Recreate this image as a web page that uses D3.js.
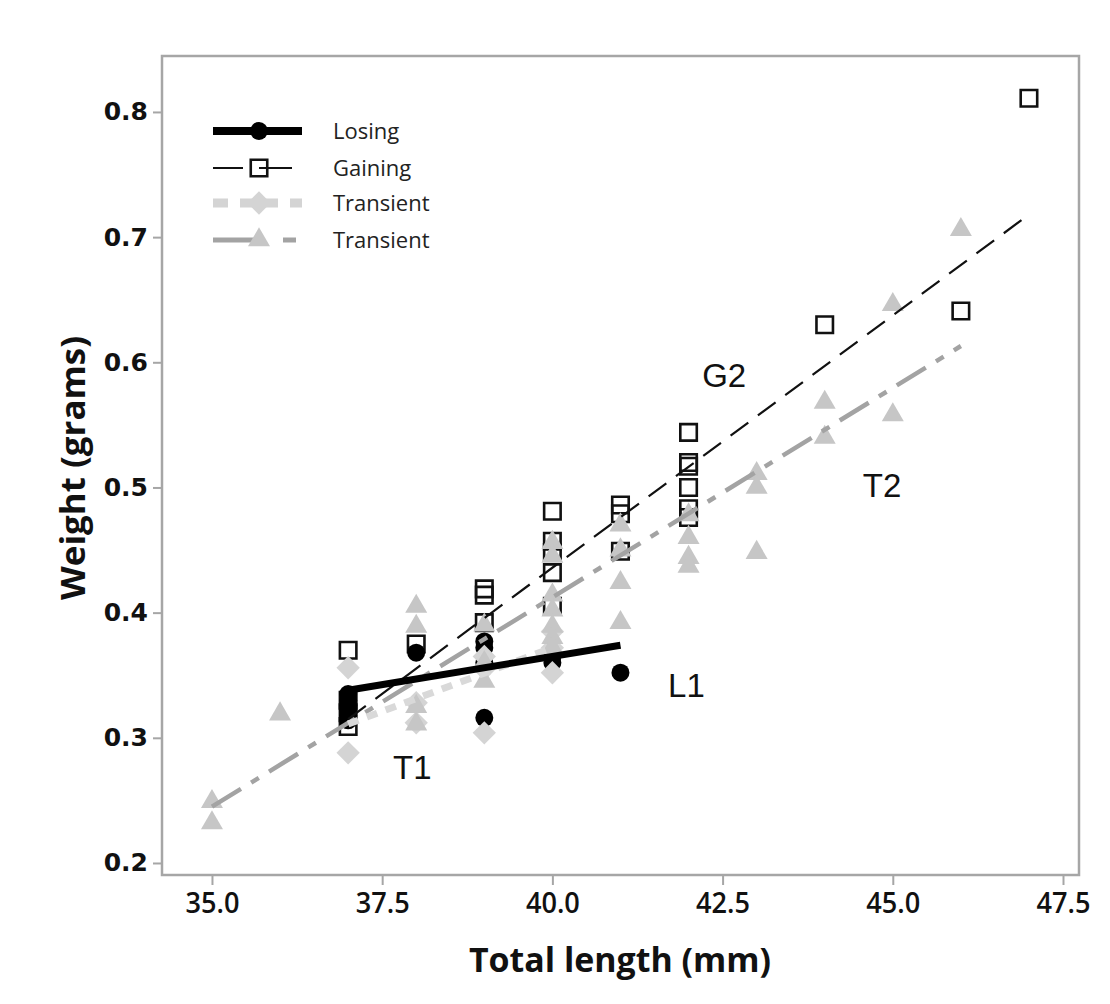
<!DOCTYPE html>
<html>
<head>
<meta charset="utf-8">
<script src="https://cdn.jsdelivr.net/npm/d3@7"></script>
<style>
  body { margin: 0; background: #fff; }
  svg { display: block; }
</style>
</head>
<body>
<div id="chart"></div>
<script>
// data
var losingX = [37, 37, 37, 37, 37, 37, 38, 39, 39, 39, 39, 40, 40, 41];
var losingY = [0.335, 0.330, 0.326, 0.322, 0.318, 0.314, 0.368, 0.377, 0.372, 0.360, 0.316, 0.365, 0.360, 0.352];

var gainingX = [37, 37, 37, 37, 38, 39, 39, 39, 40, 40, 40, 40, 40, 41, 41, 41, 42, 42, 42, 42, 42, 42, 44, 46, 47];
var gainingY = [0.370, 0.330, 0.320, 0.309, 0.375, 0.419, 0.414, 0.392, 0.481, 0.457, 0.448, 0.432, 0.405,
                0.486, 0.479, 0.449, 0.544, 0.520, 0.517, 0.500, 0.483, 0.476, 0.630, 0.641, 0.811];

var trans1X = [37, 37, 38, 38, 39, 39, 39, 40, 40, 40];
var trans1Y = [0.356, 0.288, 0.328, 0.312, 0.365, 0.355, 0.304, 0.352, 0.372, 0.385];

var trans2X = [35, 35, 36, 38, 38, 38, 38, 39, 39, 39, 40, 40, 40, 40, 40, 40, 40,
               41, 41, 41, 41, 42, 42, 42, 42, 43, 43, 43, 44, 44, 45, 45, 46];
var trans2Y = [0.249, 0.232, 0.319, 0.405, 0.389, 0.325, 0.311, 0.390, 0.360, 0.345,
               0.456, 0.445, 0.414, 0.402, 0.389, 0.380, 0.372,
               0.470, 0.450, 0.424, 0.392, 0.478, 0.460, 0.444, 0.437,
               0.511, 0.500, 0.448, 0.568, 0.540, 0.646, 0.558, 0.706];

// fitted lines (end points)
var fitLosingX = [37, 41],  fitLosingY = [0.338, 0.374];
var fitGainingX = [37, 47], fitGainingY = [0.315, 0.718];
var fitT1X = [37, 40],      fitT1Y = [0.311, 0.372];
var fitT2X = [35, 46],      fitT2Y = [0.245, 0.613];

var xTicks = [35, 37.5, 40, 42.5, 45, 47.5];
var yTicks = [0.2, 0.3, 0.4, 0.5, 0.6, 0.7, 0.8];

var legendLabels = ["Losing", "Gaining", "Transient", "Transient"];
var lineLabels = ["G2", "T2", "L1", "T1"];
var lineLabelX = [42.2, 44.56, 41.7, 37.66];
var lineLabelY = [0.580, 0.4924, 0.3326, 0.2671];

function zip(xs, ys) {
	return xs.map(function(x, i) { return {x: x, y: ys[i]}; });
}

var W = 1110, H = 1004;
var margin = {top: 56, right: 31, bottom: 129, left: 162};
var width = W - margin.left - margin.right;
var height = H - margin.top - margin.bottom;

var svg = d3.select("#chart").append("svg")
	.attr("width", W)
	.attr("height", H);

var canvas = svg.append("g")
	.attr("transform", "translate(" + margin.left + "," + margin.top + ")");

var xScale = d3.scaleLinear().domain([34.266, 47.735]).range([0, width]);
var yScale = d3.scaleLinear().domain([0.1904, 0.8447]).range([height, 0]);

var frameColor = "#a6a6a6";

// axes
var xAxis = d3.axisBottom(xScale).tickValues(xTicks).tickFormat(d3.format(".1f")).tickSize(10).tickSizeOuter(0);
var yAxis = d3.axisLeft(yScale).tickValues(yTicks).tickFormat(d3.format(".1f")).tickSize(9).tickSizeOuter(0);

var xAxisGroup = canvas.append("g")
	.attr("transform", "translate(0," + height + ")")
	.call(xAxis);
xAxisGroup.select(".domain").remove();
xAxisGroup.selectAll("line").attr("stroke", frameColor).attr("stroke-width", 2);
xAxisGroup.selectAll("text")
	.attr("fill", "#111")
	.attr("dy", "0.71em")
	.attr("y", 17)
	.attr("textLength", 54)
	.attr("lengthAdjust", "spacingAndGlyphs")
	.style("font-family", "'Open Sans'")
	.style("font-weight", 600)
	.style("font-size", "29px");

var yAxisGroup = canvas.append("g").call(yAxis);
yAxisGroup.select(".domain").remove();
yAxisGroup.selectAll("line").attr("stroke", frameColor).attr("stroke-width", 2);
yAxisGroup.selectAll("text")
	.attr("fill", "#111")
	.attr("x", -14)
	.style("font-family", "'DejaVu Sans'")
	.style("font-weight", "bold")
	.style("font-size", "25px");

// frame
canvas.append("rect")
	.attr("x", 0).attr("y", 0)
	.attr("width", width).attr("height", height)
	.attr("fill", "none")
	.attr("stroke", frameColor)
	.attr("stroke-width", 2.5);

// axis titles
svg.append("text")
	.attr("x", 620)
	.attr("y", 972)
	.attr("text-anchor", "middle")
	.attr("textLength", 302)
	.attr("lengthAdjust", "spacingAndGlyphs")
	.style("font-family", "'Open Sans'")
	.style("font-weight", 700)
	.style("font-size", "34px")
	.attr("fill", "#111")
	.text("Total length (mm)");

svg.append("text")
	.attr("transform", "translate(85,468) rotate(-90)")
	.attr("text-anchor", "middle")
	.attr("textLength", 264)
	.attr("lengthAdjust", "spacingAndGlyphs")
	.style("font-family", "'Open Sans'")
	.style("font-weight", 700)
	.style("font-size", "34px")
	.attr("fill", "#111")
	.text("Weight (grams)");

// markers
var sqSym = d3.symbol().type(d3.symbolSquare).size(272);
var circSym = d3.symbol().type(d3.symbolCircle).size(254);
var diaSym = d3.symbol().type(d3.symbolSquare).size(272);
var triSym = d3.symbol().type(d3.symbolTriangle).size(210);

var lightGray = "#d4d4d4";
var midGray = "#c6c6c6";

canvas.append("g").selectAll("path")
	.data(zip(gainingX, gainingY))
	.enter().append("path")
	.attr("d", sqSym)
	.attr("transform", function(d) { return "translate(" + xScale(d.x) + "," + yScale(d.y) + ")"; })
	.attr("fill", "none")
	.attr("stroke", "#111")
	.attr("stroke-width", 2.6);

canvas.append("g").selectAll("path")
	.data(zip(losingX, losingY))
	.enter().append("path")
	.attr("d", circSym)
	.attr("transform", function(d) { return "translate(" + xScale(d.x) + "," + yScale(d.y) + ")"; })
	.attr("fill", "#000");

canvas.append("g").selectAll("path")
	.data(zip(trans1X, trans1Y))
	.enter().append("path")
	.attr("d", diaSym)
	.attr("transform", function(d) { return "translate(" + xScale(d.x) + "," + yScale(d.y) + ") rotate(45)"; })
	.attr("fill", lightGray);

canvas.append("g").selectAll("path")
	.data(zip(trans2X, trans2Y))
	.enter().append("path")
	.attr("d", triSym)
	.attr("transform", function(d) { return "translate(" + xScale(d.x) + "," + yScale(d.y) + ")"; })
	.attr("fill", midGray);

// fitted lines
var toline = d3.line()
	.x(function(d) { return xScale(d.x); })
	.y(function(d) { return yScale(d.y); });

canvas.append("path")
	.datum(zip(fitT2X, fitT2Y))
	.attr("d", toline)
	.attr("fill", "none")
	.attr("stroke", "#a3a3a3")
	.attr("stroke-width", 4.5)
	.attr("stroke-dasharray", "34,12,9,12");

canvas.append("path")
	.datum(zip(fitT1X, fitT1Y))
	.attr("d", toline)
	.attr("fill", "none")
	.attr("stroke", "#d9d9d9")
	.attr("stroke-width", 7)
	.attr("stroke-dasharray", "11,9");

canvas.append("path")
	.datum(zip(fitGainingX, fitGainingY))
	.attr("d", toline)
	.attr("fill", "none")
	.attr("stroke", "#111")
	.attr("stroke-width", 2.2)
	.attr("stroke-dasharray", "22,12");

canvas.append("path")
	.datum(zip(fitLosingX, fitLosingY))
	.attr("d", toline)
	.attr("fill", "none")
	.attr("stroke", "#000")
	.attr("stroke-width", 7);

// line labels
canvas.append("g").selectAll("text")
	.data(lineLabels)
	.enter().append("text")
	.attr("x", function(d, i) { return xScale(lineLabelX[i]); })
	.attr("y", function(d, i) { return yScale(lineLabelY[i]); })
	.style("font-family", "'Liberation Sans', Arial")
	.style("font-size", "33px")
	.attr("fill", "#111")
	.text(function(d) { return d; });

// legend
var legend = svg.append("g").attr("transform", "translate(213,131)");
var rowGap = 37;
var lx0 = 0, lx1 = 89, mx = 46;

var rows = legend.selectAll("g")
	.data(legendLabels)
	.enter().append("g")
	.attr("transform", function(d, i) { return "translate(0," + (i * rowGap - (i > 1 ? 2 : 0)) + ")"; });

rows.append("text")
	.attr("x", 120)
	.attr("dy", "0.35em")
	.style("font-family", "'Open Sans'")
	.style("font-size", "22px")
	.attr("fill", "#222")
	.text(function(d) { return d; });

var r0 = d3.select(rows.nodes()[0]);
r0.append("line").attr("x1", lx0).attr("x2", lx1).attr("stroke", "#000").attr("stroke-width", 8);
r0.append("path").attr("d", circSym).attr("transform", "translate(" + mx + ",0)").attr("fill", "#000");

var r1 = d3.select(rows.nodes()[1]);
r1.append("line").attr("x1", lx0).attr("x2", 79).attr("stroke", "#111").attr("stroke-width", 2)
	.attr("stroke-dasharray", "30,16,33");
r1.append("path").attr("d", sqSym).attr("transform", "translate(" + mx + ",0)")
	.attr("fill", "none").attr("stroke", "#111").attr("stroke-width", 2.6);

var r2 = d3.select(rows.nodes()[2]);
r2.append("line").attr("x1", lx0).attr("x2", lx1).attr("stroke", lightGray).attr("stroke-width", 9)
	.attr("stroke-dasharray", "15,12,38,12");
r2.append("path").attr("d", diaSym).attr("transform", "translate(" + mx + ",0) rotate(45)").attr("fill", lightGray);

var r3 = d3.select(rows.nodes()[3]);
r3.append("line").attr("x1", lx0).attr("x2", 83).attr("stroke", "#a3a3a3").attr("stroke-width", 5)
	.attr("stroke-dasharray", "49,21,13");
r3.append("path").attr("d", triSym).attr("transform", "translate(" + mx + ",0)").attr("fill", midGray);
</script>
</body>
</html>
